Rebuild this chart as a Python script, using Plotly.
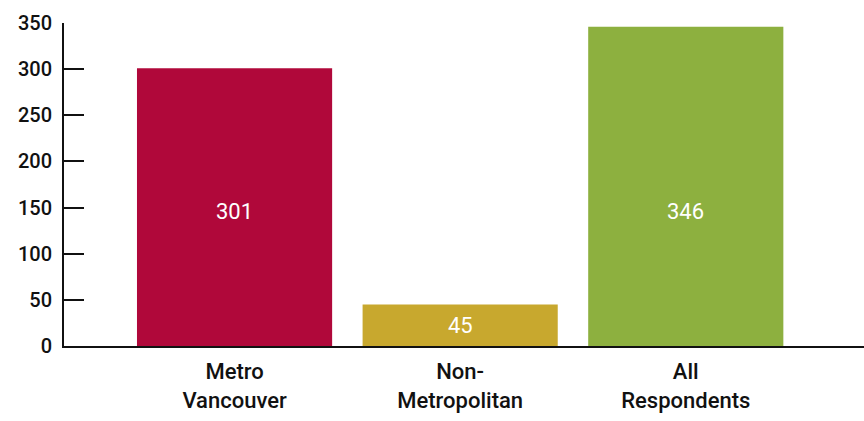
import plotly.graph_objects as go

# Respondent counts by region
categories = ["Metro<br>Vancouver", "Non-<br>Metropolitan", "All<br>Respondents"]
counts = [301, 45, 346]
bar_colors = ["#B0083A", "#C8A82E", "#8DB03F"]
y_ticks = [0, 50, 100, 150, 200, 250, 300, 350]

label_font = "Roboto, sans-serif"
ink = "#111111"

# value labels sit mid-bar, but never higher than this level on the value axis
LABEL_CEILING = 146

fig = go.Figure(
    go.Bar(
        x=[0, 1, 2],
        y=counts,
        marker=dict(color=bar_colors, line=dict(width=0)),
        width=0.865,
        hoverinfo="skip",
    )
)

for i, v in enumerate(counts):
    fig.add_annotation(
        x=i,
        y=min(v / 2, LABEL_CEILING),
        text=str(v),
        showarrow=False,
        xanchor="center",
        yanchor="middle",
        font=dict(color="white", size=22, family=label_font),
    )

fig.update_layout(
    width=864,
    height=421,
    margin=dict(l=64, r=0, t=23, b=75),
    paper_bgcolor="white",
    plot_bgcolor="white",
    showlegend=False,
    font=dict(family=label_font, size=22, color=ink),
    xaxis=dict(
        range=[-0.756, 2.79],
        tickmode="array",
        tickvals=[0, 1, 2],
        ticktext=categories,
        ticks="",
        showgrid=False,
        zeroline=False,
        showline=True,
        linecolor=ink,
        linewidth=2,
        ticklabelstandoff=5,
        tickfont=dict(size=22, family=label_font, color=ink, weight=500),
    ),
    yaxis=dict(
        range=[0, 350],
        tickmode="array",
        tickvals=y_ticks,
        ticks="inside",
        ticklen=20,
        tickwidth=2,
        tickcolor=ink,
        showgrid=False,
        zeroline=False,
        showline=True,
        linecolor=ink,
        linewidth=2,
        ticklabelstandoff=6,
        tickfont=dict(size=20, family=label_font, color=ink, weight=500),
    ),
)

fig.write_html("out.html")
